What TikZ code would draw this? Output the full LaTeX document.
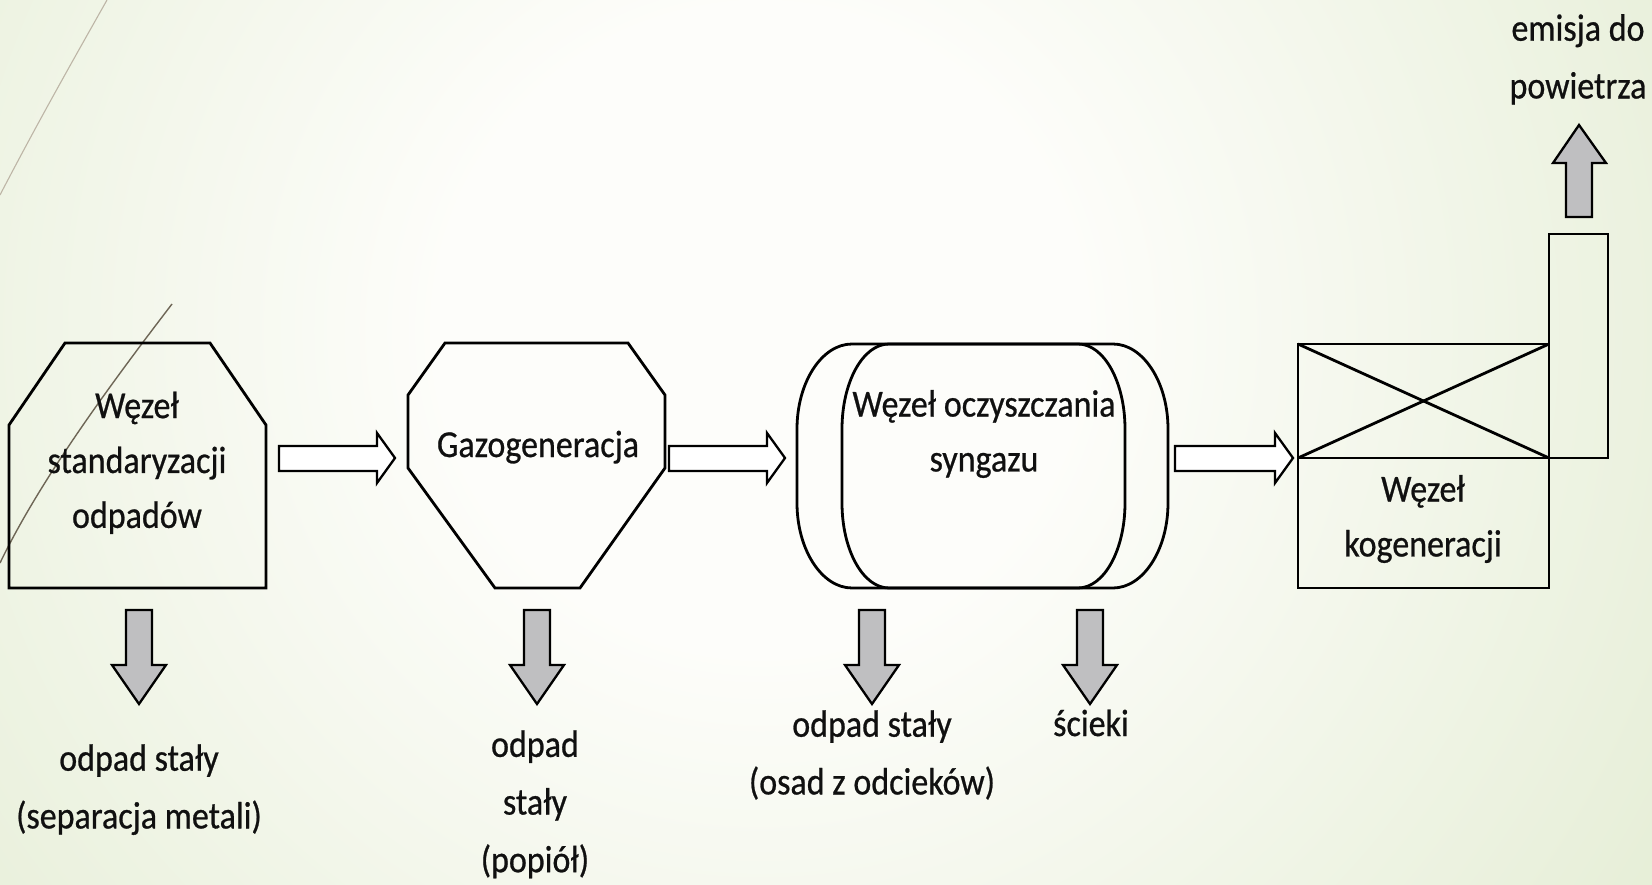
\documentclass[tikz,border=0pt]{standalone}
\usepackage{fontspec}
\usepackage{graphicx}
\setmainfont{Carlito}[FakeBold=0.7]
\definecolor{bgin}{HTML}{FDFDFA}
\definecolor{bgout}{HTML}{D3E2BA}
\definecolor{arrowgray}{HTML}{BFBFC1}
\definecolor{textc}{HTML}{101010}
\definecolor{decoA}{HTML}{BDB5A6}
\definecolor{decoB}{HTML}{6E6656}
\pgfdeclareradialshading{bgshade}{\pgfpoint{0bp}{0bp}}{color(0bp)=(bgin); color(8bp)=(bgin); color(42bp)=(bgout); color(50bp)=(bgout)}
\newcommand\HArr[2]{\draw[harrowsty] (#1,446) -- ({#2-18},446) -- ({#2-18},433) -- (#2,458) -- ({#2-18},483) -- ({#2-18},471) -- (#1,471) -- cycle;}
\newcommand\DArr[1]{\draw[darrowsty] ({#1-13},610) -- ({#1+13},610) -- ({#1+13},665) -- ({#1+27},665) -- (#1,704) -- ({#1-27},665) -- ({#1-13},665) -- cycle;}
\newcommand\VS[1]{\scalebox{1}[1.12]{\begin{tabular}{@{}c@{}}#1\end{tabular}}}
\newcommand\VO[1]{\scalebox{1}[1.12]{#1}}
\begin{document}
\begin{tikzpicture}[x=1pt,y=-1pt,
  shapeline/.style={draw=black, line width=2.8pt, line join=miter},
  harrowsty/.style={draw=black, line width=2.3pt, fill=white, line join=miter},
  darrowsty/.style={draw=black, line width=2.3pt, fill=arrowgray, line join=miter},
  lbl/.style={font=\fontsize{34}{49}\selectfont, inner sep=0pt, text=textc},
  outlbl/.style={font=\fontsize{34}{51.5}\selectfont, inner sep=0pt, text=textc}]
% background
\path[use as bounding box] (0,0) rectangle (1652,885);
\begin{scope}
  \clip (0,0) rectangle (1652,885);
  \shade[shading=bgshade] (-240,-670) rectangle (1760,1330);
\end{scope}
% decorative lines
\draw[decoA, line width=1.1pt] (107,0) .. controls (72,62) and (38,122) .. (0,195);
\draw[decoB, line width=1.4pt] (172,304) .. controls (110,385) and (40,480) .. (0,563);

% shape 1: standaryzacja
\draw[shapeline] (9,588) -- (9,425) -- (65,343) -- (210,343) -- (266,425) -- (266,588) -- cycle;
\node[lbl] (n1) at (137,462) {\VS{Węzeł\\standaryzacji\\odpadów}};

% shape 2: gazogeneracja
\draw[shapeline] (445,343) -- (628,343) -- (665,395) -- (665,468) -- (580,588) -- (495,588) -- (408,468) -- (408,395) -- cycle;
\node[lbl, anchor=base] (n2) at (538,457) {\VO{Gazogeneracja}};

% shape 3: oczyszczanie
\draw[shapeline] (852,344) -- (1113,344) .. controls (1143,344) and (1168,382) .. (1168,429) -- (1168,503) .. controls (1168,550) and (1143,588) .. (1113,588) -- (852,588) .. controls (822,588) and (797,550) .. (797,503) -- (797,429) .. controls (797,382) and (822,344) .. (852,344) -- cycle;
\draw[shapeline] (889,344) -- (1078,344) .. controls (1104,344) and (1125,382) .. (1125,429) -- (1125,503) .. controls (1125,550) and (1104,588) .. (1078,588) -- (889,588) .. controls (863,588) and (842,550) .. (842,503) -- (842,429) .. controls (842,382) and (863,344) .. (889,344) -- cycle;
\node[lbl] (n3) at (984,433) {\VS{Węzeł oczyszczania\\syngazu}};

% shape 4: kogeneracja
\draw[shapeline] (1298,344) rectangle (1549,588);
\draw[shapeline] (1549,458) -- (1608,458) -- (1608,234) -- (1549,234) -- (1549,344);
\draw[shapeline] (1298,458) -- (1549,458);
\draw[shapeline] (1298,344) -- (1549,458);
\draw[shapeline] (1298,458) -- (1549,344);
\node[lbl] (n4) at (1423,518) {\VS{Węzeł\\kogeneracji}};

% flow arrows
\HArr{279}{395}
\HArr{669}{785}
\HArr{1175}{1293}

% output arrows
\DArr{139}
\DArr{537}
\DArr{872}
\DArr{1090}
\draw[darrowsty] (1566,217) -- (1592,217) -- (1592,163) -- (1606,163) -- (1579,125) -- (1553,163) -- (1566,163) -- cycle;

% output labels
\node[outlbl] (o1) at (139,788) {\VS{odpad stały\\(separacja metali)}};
\node[outlbl] (o2) at (535,803) {\VS{odpad\\stały\\(popiół)}};
\node[outlbl] (o3) at (872,754) {\VS{odpad stały\\(osad z odcieków)}};
\node[outlbl, anchor=base] (o4) at (1091,736) {\VO{ścieki}};
\node[outlbl] (o5) at (1578,58) {\VS{emisja do\\powietrza}};
\end{tikzpicture}
\end{document}
